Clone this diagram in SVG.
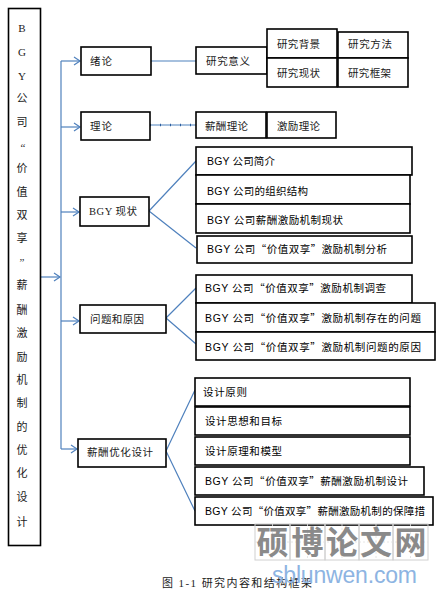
<svg xmlns="http://www.w3.org/2000/svg" width="442" height="594" viewBox="0 0 442 594">
<style>
.box{fill:#fff;stroke:#000;stroke-width:1.6}
.ser{font-family:"Liberation Serif","Noto Sans CJK SC",serif;font-size:10.5px;fill:#1a1a1a}
.san{font-family:"Liberation Sans","Noto Sans CJK SC",sans-serif;font-size:10.5px;fill:#000}
.q{font-family:"Noto Sans CJK SC",sans-serif}
.vt{font-family:"Liberation Serif","Noto Sans CJK SC",serif;font-size:11px;fill:#1a1a1a;text-anchor:middle}
.ln{stroke:#4f81bd;stroke-width:1.2;fill:none}
.arr{stroke:#4f81bd;stroke-width:1.2;fill:none;marker-end:url(#ah)}
.wg{fill:none;stroke:#d0d0d0;stroke-width:1}
.wc{stroke:#e0e0e0;stroke-width:0.8;stroke-dasharray:2 2}
.wt{font-family:"Noto Sans CJK SC",sans-serif;font-size:32px;font-weight:bold;fill:#8a8a8a;text-anchor:middle}
</style>
<defs>
<marker id="ah" markerWidth="9" markerHeight="10" refX="7" refY="5" orient="auto" markerUnits="userSpaceOnUse"><path d="M1,1 L7,5 L1,9" fill="none" stroke="#4f81bd" stroke-width="1.2"/></marker>
</defs>
<rect width="442" height="594" fill="#fff"/>

<g id="connectors">
<path class="ln" d="M61,61 V449"/>
<path class="arr" d="M61,61 H80"/>
<path class="arr" d="M61,127 H80"/>
<path class="arr" d="M61,212 H79"/>
<path class="arr" d="M61,321 H79"/>
<path class="arr" d="M61,449 H77"/>
<path class="arr" d="M41,277 H60"/>
<path class="ln" d="M151,61 H196"/>
<path class="ln" d="M150,125 H196"/>
<path d="M150,125 H196" stroke="#2f5f9f" stroke-width="2.6" stroke-dasharray="1 9" fill="none"/>
<path class="ln" d="M149,211 L196,161 M149,211 L196,248"/>
<path class="ln" d="M166,318 L196,288 M166,318 L196,344"/>
<path class="ln" d="M166,451 L195,390 M166,451 L195,511"/>
</g>

<g id="title-col">
<rect class="box" x="8.5" y="8.5" width="32" height="537"/>
<text class="vt" x="22" y="32">B</text>
<text class="vt" x="22" y="56">G</text>
<text class="vt" x="22" y="80">Y</text>
<text class="vt" x="22" y="102">公</text>
<text class="vt" x="22" y="126">司</text>
<text class="vt" x="23" y="151">“</text>
<text class="vt" x="22" y="172">价</text>
<text class="vt" x="22" y="196">值</text>
<text class="vt" x="22" y="219">双</text>
<text class="vt" x="22" y="242">享</text>
<text class="vt" x="22" y="266">”</text>
<text class="vt" x="22" y="289">薪</text>
<text class="vt" x="22" y="314">酬</text>
<text class="vt" x="22" y="337">激</text>
<text class="vt" x="22" y="361">励</text>
<text class="vt" x="22" y="384">机</text>
<text class="vt" x="22" y="407">制</text>
<text class="vt" x="22" y="431">的</text>
<text class="vt" x="22" y="454">优</text>
<text class="vt" x="22" y="477">化</text>
<text class="vt" x="22" y="501">设</text>
<text class="vt" x="22" y="526">计</text>
</g>

<g id="n-xulun"><rect class="box" x="81" y="47" width="70" height="28"/><text class="ser" x="90" y="65" textLength="22" lengthAdjust="spacing">绪论</text></g>
<g id="n-lilun"><rect class="box" x="81" y="112" width="69" height="28"/><text class="ser" x="90" y="130" textLength="22" lengthAdjust="spacing">理论</text></g>
<g id="n-xianzhuang"><rect class="box" x="80" y="197" width="69" height="29"/><text class="ser" x="89" y="215" textLength="48" lengthAdjust="spacing">BGY 现状</text></g>
<g id="n-wenti"><rect class="box" x="80" y="305" width="86" height="28"/><text class="ser" x="90" y="323" textLength="54" lengthAdjust="spacing">问题和原因</text></g>
<g id="n-sheji"><rect class="box" x="78" y="439" width="88" height="28"/><text class="ser" x="87" y="456" textLength="66" lengthAdjust="spacing">薪酬优化设计</text></g>

<g id="n-yiyi"><rect class="box" x="196" y="47" width="71" height="27"/><text class="ser" x="206" y="65" textLength="44" lengthAdjust="spacing">研究意义</text></g>
<g id="n-beijing"><rect class="box" x="267" y="29" width="70" height="29"/><text class="ser" x="277" y="48" textLength="43" lengthAdjust="spacing">研究背景</text></g>
<g id="n-fangfa"><rect class="box" x="338" y="32" width="70" height="26"/><text class="ser" x="348" y="48" textLength="44" lengthAdjust="spacing">研究方法</text></g>
<g id="n-xianzhuang2"><rect class="box" x="267" y="58" width="70" height="29"/><text class="ser" x="277" y="77" textLength="43" lengthAdjust="spacing">研究现状</text></g>
<g id="n-kuangjia"><rect class="box" x="338" y="58" width="70" height="29"/><text class="ser" x="348" y="77" textLength="43" lengthAdjust="spacing">研究框架</text></g>
<g id="n-xinchou"><rect class="box" x="196" y="112" width="70" height="26"/><text class="ser" x="205" y="130" textLength="43" lengthAdjust="spacing">薪酬理论</text></g>
<g id="n-jili"><rect class="box" x="267" y="112" width="69" height="26"/><text class="ser" x="277" y="130" textLength="43" lengthAdjust="spacing">激励理论</text></g>

<g id="n-b1"><rect class="box" x="196" y="147" width="216" height="28"/><text class="san" x="207" y="165" textLength="68" lengthAdjust="spacing">BGY 公司简介</text></g>
<g id="n-b2"><rect class="box" x="196" y="175" width="214" height="29"/><text class="san" x="207" y="195" textLength="101" lengthAdjust="spacing">BGY 公司的组织结构</text></g>
<g id="n-b3"><rect class="box" x="196" y="204" width="214" height="29"/><text class="san" x="207" y="224" textLength="136" lengthAdjust="spacing">BGY 公司薪酬激励机制现状</text></g>
<g id="n-b4"><rect class="box" x="197" y="236" width="215" height="27"/><text class="san" x="207" y="253" textLength="180" lengthAdjust="spacing">BGY 公司<tspan class="q">“</tspan>价值双享<tspan class="q">”</tspan>激励机制分析</text></g>

<g id="n-p1"><rect class="box" x="196" y="275" width="216" height="28"/><text class="san" x="205" y="292" textLength="181" lengthAdjust="spacing">BGY 公司<tspan class="q">“</tspan>价值双享<tspan class="q">”</tspan>激励机制调查</text></g>
<g id="n-p2"><rect class="box" x="196" y="303" width="239" height="29"/><text class="san" x="205" y="322" textLength="216" lengthAdjust="spacing">BGY 公司<tspan class="q">“</tspan>价值双享<tspan class="q">”</tspan>激励机制存在的问题</text></g>
<g id="n-p3"><rect class="box" x="196" y="332" width="239" height="28"/><text class="san" x="205" y="351" textLength="216" lengthAdjust="spacing">BGY 公司<tspan class="q">“</tspan>价值双享<tspan class="q">”</tspan>激励机制问题的原因</text></g>

<g id="n-d1"><rect class="box" x="195" y="378" width="215" height="28"/><text class="san" x="203" y="396" textLength="44" lengthAdjust="spacing">设计原则</text></g>
<g id="n-d2"><rect class="box" x="195" y="407" width="215" height="28"/><text class="san" x="205" y="425" textLength="77" lengthAdjust="spacing">设计思想和目标</text></g>
<g id="n-d3"><rect class="box" x="195" y="437" width="215" height="28"/><text class="san" x="205" y="455" textLength="77" lengthAdjust="spacing">设计原理和模型</text></g>
<g id="n-d4"><rect class="box" x="195" y="467" width="229" height="28"/><text class="san" x="205" y="485" textLength="203" lengthAdjust="spacing">BGY 公司<tspan class="q">“</tspan>价值双享<tspan class="q">”</tspan>薪酬激励机制设计</text></g>
<g id="n-d5"><rect class="box" x="195" y="497" width="238" height="28"/><text class="san" x="205" y="515" textLength="220" lengthAdjust="spacing">BGY 公司<tspan class="q">“</tspan>价值双享<tspan class="q">”</tspan>薪酬激励机制的保障措</text></g>

<text x="162" y="587" font-family="Liberation Serif,'Noto Sans CJK SC',serif" font-size="11" fill="#222" textLength="150" lengthAdjust="spacing">图 1-1 研究内容和结构框架</text>

<g id="watermark">
<rect class="wg" x="255" y="524" width="35" height="36"/>
<rect class="wg" x="290" y="524" width="35" height="36"/>
<rect class="wg" x="325" y="524" width="34" height="36"/>
<rect class="wg" x="359" y="524" width="34" height="36"/>
<rect class="wg" x="393" y="524" width="35" height="36"/>
<path class="wc" d="M255,542 H428 M272.5,524 V560 M307.5,524 V560 M342,524 V560 M376,524 V560 M410.5,524 V560"/>
<text class="wt" x="272.5" y="554">硕</text>
<text class="wt" x="307.5" y="554">博</text>
<text class="wt" x="342" y="554">论</text>
<text class="wt" x="376" y="554">文</text>
<text class="wt" x="410.5" y="554">网</text>
<text x="272" y="583" font-family="Liberation Sans,sans-serif" font-size="23" fill="#8db4e2" textLength="145" lengthAdjust="spacing">sblunwen.com</text>
</g>
</svg>
